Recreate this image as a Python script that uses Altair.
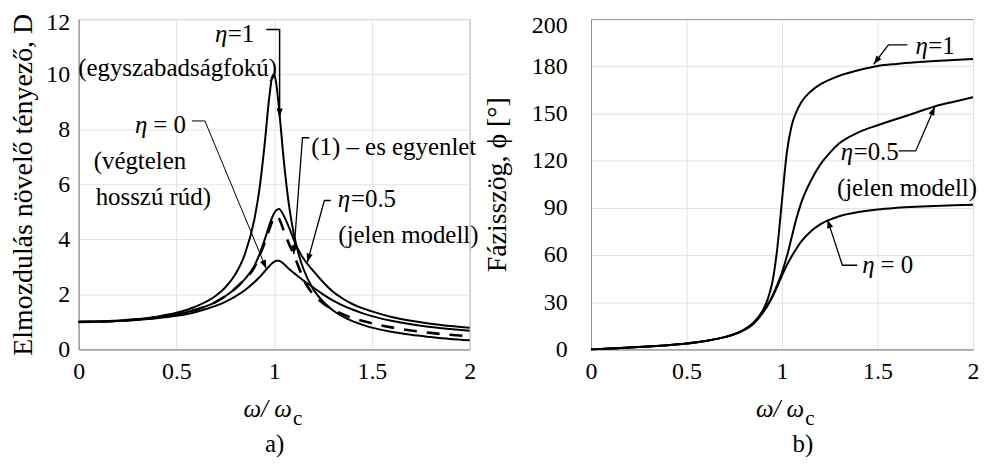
import math
import altair as alt
import pandas as pd

FONT = "'Liberation Serif', 'Times New Roman', serif"
W_L, W_R, H = 393, 384, 332

# ---------------- a) displacement amplification factor D ----------------
XL = [0, 0.1, 0.2, 0.3, 0.4, 0.5, 0.6, 0.7, 0.75, 0.8, 0.85, 0.9, 0.925, 0.95, 0.975,
      0.99, 1.0, 1.01, 1.025, 1.05, 1.075, 1.1, 1.125, 1.15, 1.2, 1.25, 1.3, 1.35, 1.4,
      1.45, 1.5, 1.6, 1.7, 1.8, 1.9, 2.0]
D_ETA1 = [1.0, 1.01, 1.04, 1.10, 1.19, 1.33, 1.56, 1.94, 2.25, 2.71, 3.45, 4.76, 5.83, 7.35, 9.15,
          9.9, 10.0, 9.7, 8.75, 6.82, 5.29, 4.22, 3.47, 2.92, 2.19, 1.74, 1.42, 1.20, 1.03,
          0.90, 0.79, 0.64, 0.53, 0.45, 0.38, 0.33]
D_ETA05 = [1.0, 1.01, 1.04, 1.09, 1.16, 1.27, 1.44, 1.72, 1.93, 2.2, 2.55, 3.05, 3.45, 3.95, 4.5,
           4.8, 4.95, 5.05, 5.1, 4.85, 4.45, 4.0, 3.6, 3.3, 2.85, 2.45, 2.1, 1.85, 1.65,
           1.5, 1.38, 1.18, 1.04, 0.93, 0.85, 0.79]
D_ETA0 = [1.0, 1.01, 1.03, 1.07, 1.13, 1.22, 1.36, 1.58, 1.73, 1.92, 2.15, 2.45, 2.62, 2.82, 3.02,
          3.13, 3.18, 3.22, 3.22, 3.1, 2.93, 2.78, 2.64, 2.5, 2.25, 2.0, 1.78, 1.6, 1.45,
          1.32, 1.21, 1.04, 0.91, 0.81, 0.74, 0.68]
D_EQ1 = [1.0, 1.01, 1.04, 1.09, 1.16, 1.27, 1.44, 1.72, 1.93, 2.2, 2.55, 3.0, 3.4, 3.85, 4.35,
         4.65, 4.78, 4.85, 4.75, 4.3, 3.85, 3.45, 3.0, 2.55, 2.0, 1.68, 1.45, 1.28, 1.14,
         1.04, 0.95, 0.8, 0.69, 0.6, 0.53, 0.48]

# ---------------- b) phase angle ----------------
XR = [0, 0.1, 0.2, 0.3, 0.4, 0.5, 0.6, 0.7, 0.75, 0.8, 0.85, 0.9, 0.925, 0.95, 0.975,
      1.0, 1.025, 1.05, 1.075, 1.1, 1.15, 1.2, 1.25, 1.3, 1.4, 1.5, 1.6, 1.7, 1.8, 1.9, 2.0]
P_ETA1 = [0, 0.6, 1.2, 1.9, 2.7, 3.8, 5.4, 7.8, 9.7, 12.5, 17, 25, 32, 43, 64,
          95, 125, 142, 151, 157, 164, 168.5, 171.5, 174, 177.5, 180.2, 181.5, 182.5, 183.3, 184, 184.6]
P_ETA05 = [0, 0.6, 1.2, 1.9, 2.7, 3.8, 5.4, 7.8, 9.6, 12.3, 16.5, 23.5, 28.5, 34, 41,
           49, 59, 71, 83, 93, 107, 117.5, 125, 131, 138, 142.5, 146.5, 150.5, 154.5, 157.5, 160.3]
P_ETA0 = [0, 0.6, 1.2, 1.9, 2.7, 3.8, 5.4, 7.8, 9.6, 12.2, 16.2, 23.5, 28, 33.5, 40,
          47, 53.5, 59, 64, 68.5, 75, 79.5, 82.5, 84.7, 87.3, 89, 90, 90.7, 91.2, 91.6, 92]

# ---------------- annotations (data coordinates) ----------------
L_LEAD_ID = ["e1", "e1", "e1", "e0", "e0", "e0", "q1", "q1", "q1", "e5", "e5", "e5"]
L_LEAD_X = [0.96, 1.028, 1.028, 0.58, 0.646, 0.96, 1.18, 1.145, 1.10, 1.29, 1.257, 1.17]
L_LEAD_Y = [11.62, 11.62, 8.44, 8.30, 8.30, 2.93, 7.69, 7.69, 3.46, 5.41, 5.41, 3.17]
L_LEAD_W = [1.5, 1.5, 1.5, 1.0, 1.0, 1.0, 1.3, 1.3, 1.3, 1.3, 1.3, 1.3]

R_LEAD_ID = ["e1", "e1", "e1", "e5", "e5", "e5", "e0", "e0", "e0"]
R_LEAD_X = [1.656, 1.557, 1.48, 1.61, 1.70, 1.80, 1.394, 1.316, 1.238]
R_LEAD_Y = [193.6, 193.6, 181.3, 126.2, 126.2, 154.3, 53.5, 53.5, 82.5]
R_LEAD_W = [1.3] * 9

L_TXT = ["=1", "= 0", "(végtelen", "hosszú rúd)", "(1) – es egyenlet", "=0.5"]
L_TXT_X = [0.763, 0.382, 0.077, 0.087, 1.19, 1.393]
L_TXT_Y = [11.47, 8.16, 6.84, 5.55, 7.37, 5.48]
L_CTXT = ["(egyszabadságfokú)", "(jelen modell)"]
L_CTXT_X = [0.506, 1.687]
L_CTXT_Y = [10.22, 4.17]
L_ETA_X = [0.761, 0.351, 1.389]
L_ETA_Y = [11.47, 8.16, 5.48]

R_TXT = ["=1", "=0.5", "= 0"]
R_TXT_X = [1.766, 1.375, 1.516]
R_TXT_Y = [192.8, 125.4, 53.6]
R_CTXT = ["(jelen modell)"]
R_CTXT_X = [1.654]
R_CTXT_Y = [102.3]
R_ETA_X = [1.763, 1.372, 1.484]
R_ETA_Y = [192.8, 125.4, 53.6]

ARROW = "M0,0L-0.36,1L0.36,1Z"


def heads(df, sx, sy):
    rows = []
    for _, g in df.groupby("id", sort=False):
        p = g[["x", "y"]].values
        (x0, y0), (x1, y1) = p[-2], p[-1]
        dx = (x1 - x0) * sx
        dy = -(y1 - y0) * sy
        rows.append({"x": x1, "y": y1, "ang": math.degrees(math.atan2(dx, -dy)) % 360})
    return pd.DataFrame(rows)


def panel(curves, dashed, lead, txt, ctxt, eta, width, ydom, yaxis, sx, sy, xt_x, sub_x, lab, lab_x):
    def X():
        return alt.X("x:Q", scale=alt.Scale(domain=[0, 2], nice=False),
                     axis=alt.Axis(values=[0, 0.5, 1, 1.5, 2], format="~g", title=None,
                                   labelFlush=False, labelPadding=10))

    def Y():
        return alt.Y("y:Q", scale=alt.Scale(domain=ydom, nice=False), axis=yaxis)

    layers = [
        alt.Chart(curves).mark_line(color="black", strokeWidth=2, interpolate="monotone")
        .encode(x=X(), y=Y(), detail="s:N"),
    ]
    if dashed is not None:
        layers.append(alt.Chart(dashed).mark_line(color="black", strokeWidth=2.6,
                                                  strokeDash=[13, 10], interpolate="monotone")
                      .encode(x=X(), y=Y()))
    layers += [
        alt.Chart(lead).mark_line(color="black")
        .encode(x=X(), y=Y(), detail="id:N", order="o:Q",
                strokeWidth=alt.StrokeWidth("w:Q", scale=None, legend=None)),
        alt.Chart(heads(lead, sx, sy)).mark_point(shape=ARROW, filled=True, color="black",
                                                  size=300, opacity=1, strokeWidth=0)
        .encode(x=X(), y=Y(), angle=alt.Angle("ang:Q", scale=None)),
        alt.Chart(txt).mark_text(align="left", baseline="middle", font=FONT, fontSize=25, color="black")
        .encode(x=X(), y=Y(), text="t:N"),
        alt.Chart(ctxt).mark_text(align="center", baseline="middle", font=FONT, fontSize=25, color="black")
        .encode(x=X(), y=Y(), text="t:N"),
        alt.Chart(eta).mark_text(align="right", baseline="middle", font=FONT, fontSize=25,
                                 fontStyle="italic", color="black")
        .encode(x=X(), y=Y(), text="t:N"),
        alt.Chart(pd.DataFrame({"t": ["ω/ ω"]})).mark_text(align="center", baseline="middle", font=FONT,
                                                          fontSize=25, fontStyle="italic", color="black")
        .encode(text="t:N", x=alt.value(xt_x), y=alt.value(H + 60)),
        alt.Chart(pd.DataFrame({"t": ["c"]})).mark_text(align="center", baseline="middle", font=FONT,
                                                       fontSize=21, color="black")
        .encode(text="t:N", x=alt.value(sub_x), y=alt.value(H + 70)),
        alt.Chart(pd.DataFrame({"t": [lab]})).mark_text(align="center", baseline="middle", font=FONT,
                                                       fontSize=25, color="black")
        .encode(text="t:N", x=alt.value(lab_x), y=alt.value(H + 95)),
    ]
    return alt.layer(*layers).properties(width=width, height=H)


left_curves = pd.concat([
    pd.DataFrame({"x": XL, "y": D_ETA1, "s": "eta1"}),
    pd.DataFrame({"x": XL, "y": D_ETA05, "s": "eta05"}),
    pd.DataFrame({"x": XL, "y": D_ETA0, "s": "eta0"}),
])
left_dashed = pd.DataFrame({"x": XL, "y": D_EQ1})
right_curves = pd.concat([
    pd.DataFrame({"x": XR, "y": P_ETA1, "s": "eta1"}),
    pd.DataFrame({"x": XR, "y": P_ETA05, "s": "eta05"}),
    pd.DataFrame({"x": XR, "y": P_ETA0, "s": "eta0"}),
])

l_lead = pd.DataFrame({"id": L_LEAD_ID, "x": L_LEAD_X, "y": L_LEAD_Y, "w": L_LEAD_W,
                       "o": list(range(len(L_LEAD_ID)))})
r_lead = pd.DataFrame({"id": R_LEAD_ID, "x": R_LEAD_X, "y": R_LEAD_Y, "w": R_LEAD_W,
                       "o": list(range(len(R_LEAD_ID)))})

yaxis_l = alt.Axis(values=[0, 2, 4, 6, 8, 10, 12], title="Elmozdulás növelő tényező, D",
                   labelPadding=9, titlePadding=8, titleFontSize=28,
                   labelOffset={"condition": {"test": "datum.value === 12", "value": 3}, "value": 0})
yaxis_r = alt.Axis(values=[0, 30, 60, 90, 120, 150, 180, 200], title="Fázisszög, ϕ [°]",
                   labelPadding=24, titlePadding=20, titleFontSize=28,
                   labelOffset={"condition": {"test": "datum.value === 200", "value": -9}, "value": 0},
                   gridOpacity={"condition": {"test": "datum.value === 200", "value": 0}, "value": 1})

left = panel(left_curves, left_dashed, l_lead,
             pd.DataFrame({"t": L_TXT, "x": L_TXT_X, "y": L_TXT_Y}),
             pd.DataFrame({"t": L_CTXT, "x": L_CTXT_X, "y": L_CTXT_Y}),
             pd.DataFrame({"t": ["η"] * 3, "x": L_ETA_X, "y": L_ETA_Y}),
             W_L, [0, 12], yaxis_l, W_L / 2, H / 12, 190, 220, "a)", 197)
right = panel(right_curves, None, r_lead,
              pd.DataFrame({"t": R_TXT, "x": R_TXT_X, "y": R_TXT_Y}),
              pd.DataFrame({"t": R_CTXT, "x": R_CTXT_X, "y": R_CTXT_Y}),
              pd.DataFrame({"t": ["η"] * 3, "x": R_ETA_X, "y": R_ETA_Y}),
              W_R, [0, 210], yaxis_r, W_R / 2, H / 210, 190, 220, "b)", 213)

chart = (
    alt.hconcat(left, right, spacing=122, bounds="flush")
    .properties(padding={"left": 1, "top": 0, "right": 0, "bottom": 0}, background="white")
    .configure_axis(labelFont=FONT, labelFontSize=24, labelColor="black",
                    titleFont=FONT, titleFontSize=27, titleFontWeight="normal", titleColor="black",
                    gridColor="#e3e3e3", gridWidth=1, domainColor="#8c8c8c", ticks=False)
    .configure_view(stroke="#8c8c8c", strokeWidth=1)
)

chart.save("out.html", embed_options={"renderer": "svg", "actions": False})
